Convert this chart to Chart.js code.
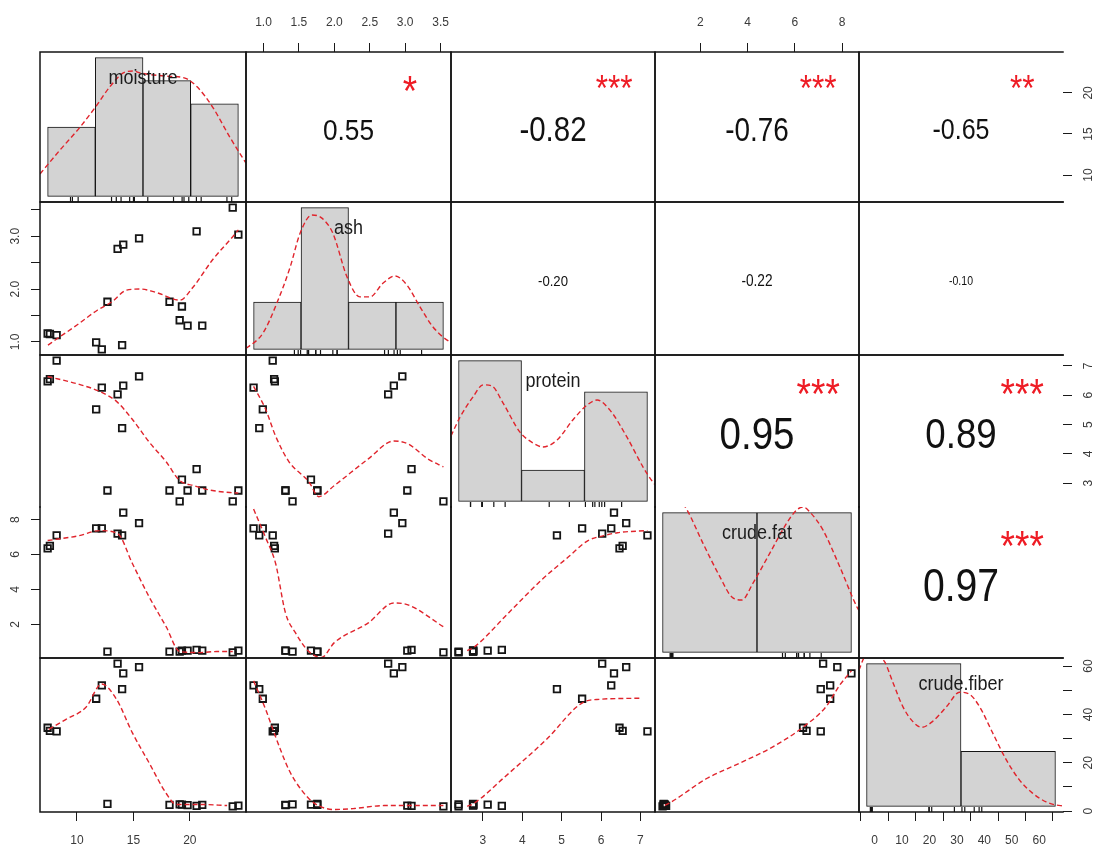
<!DOCTYPE html>
<html>
<head>
<meta charset="utf-8">
<script src="https://cdn.jsdelivr.net/npm/chart.js@4.4.1/dist/chart.umd.min.js"></script>
<style>
  html, body { margin: 0; padding: 0; background: #fff; }
  #grid { position: relative; width: 1097px; height: 852px; overflow: hidden; background: #fff; }
  #grid .cell { position: absolute; }
</style>
</head>
<body>
<div id="grid"></div>
<script>
// ---------- data ----------
const varNames = ['moisture', 'ash', 'protein', 'crude.fat', 'crude.fiber'];

const moisture   = [7.4, 7.6, 8.2, 11.7, 12.2, 14.0, 13.6, 14.1, 15.5, 12.7, 18.2, 19.3, 19.1, 19.8, 21.1, 20.6, 23.8, 24.3];
const ash        = [1.16, 1.15, 1.13, 0.99, 0.86, 0.94, 2.76, 2.84, 2.96, 1.76, 1.76, 1.67, 1.41, 1.31, 1.31, 3.09, 3.54, 3.03];
const protein    = [6.47, 6.55, 7.18, 5.52, 6.26, 4.88, 6.03, 6.33, 6.64, 2.75, 2.75, 3.12, 2.38, 2.75, 2.75, 3.48, 2.38, 2.75];
const crudeFat   = [6.35, 6.5, 7.1, 7.5, 7.5, 7.1, 7.2, 8.4, 7.8, 0.45, 0.45, 0.5, 0.45, 0.5, 0.5, 0.55, 0.4, 0.5];
const crudeFiber = [34.5, 33.2, 33.0, 46.5, 52.0, 50.5, 61.0, 57.0, 59.6, 3.0, 2.6, 2.7, 2.8, 2.5, 2.6, 2.2, 2.0, 2.3];

// pairwise correlations (upper panels) and significance stars
const corrPairs  = [[0,1],[0,2],[0,3],[0,4],[1,2],[1,3],[1,4],[2,3],[2,4],[3,4]];
const corrValues = [0.55, -0.82, -0.76, -0.65, -0.20, -0.22, -0.10, 0.95, 0.89, 0.97];
const corrStars  = ['*', '***', '***', '**', '', '', '', '***', '***', '***'];

// histogram breaks and counts (diagonal panels)
const moistureBreaks = [5, 10, 15, 20, 25];   const moistureCounts = [3, 6, 5, 4];
const ashBreaks      = [0, 1, 2, 3, 4];       const ashCounts      = [3, 9, 3, 3];
const proteinBreaks  = [2, 4, 6, 8];          const proteinCounts  = [9, 2, 7];
const fatBreaks      = [0, 5, 10];            const fatCounts      = [9, 9];
const fiberBreaks    = [0, 50, 100];          const fiberCounts    = [13, 5];

// kernel density curves [value, density]
const densMoisture = [[4.2,0.0108],[6.3,0.0223],[8.4,0.0333],[10.1,0.0434],[11.5,0.0525],[13.1,0.0597],[14.0,0.0602],[14.7,0.0593],[17.3,0.0578],[19.4,0.0568],[20.7,0.0525],[22.3,0.0429],[24.1,0.0285],[25.4,0.0189],[25.8,0.0160]];
const densAsh = [[-0.16,0.004],[-0.12,0.008],[0.2,0.058],[0.49,0.163],[0.77,0.29],[0.98,0.41],[1.23,0.474],[1.44,0.463],[1.67,0.41],[1.97,0.255],[2.24,0.185],[2.45,0.185],[2.73,0.234],[2.98,0.259],[3.23,0.227],[3.51,0.149],[3.78,0.079],[4.14,0.026],[4.16,0.025]];
const densProtein = [[1.76,0.116],[2.05,0.150],[2.46,0.1855],[2.78,0.207],[3.06,0.205],[3.41,0.175],[3.95,0.123],[4.36,0.104],[4.68,0.0967],[5.13,0.109],[5.63,0.1446],[6.08,0.171],[6.4,0.18],[6.81,0.162],[7.35,0.114],[7.86,0.061],[8.17,0.0345],[8.24,0.030]];
const densFat = [[-0.4,0.106],[0.3,0.111],[0.9,0.109],[1.29,0.102],[2.14,0.078],[3.04,0.054],[3.67,0.0396],[4.2,0.0375],[4.79,0.0496],[5.68,0.071],[6.58,0.0926],[7.11,0.102],[7.45,0.104],[7.8,0.1004],[8.49,0.0876],[9.39,0.061],[10.29,0.0325],[10.4,0.030]];
const densFiber = [[-4,0.0138],[-1,0.0152],[2.5,0.0158],[6,0.0153],[9.7,0.0146],[13.9,0.01257],[19.2,0.0101],[24.4,0.0086],[29.2,0.0080],[35.0,0.0086],[42.4,0.0101],[49.2,0.01155],[54.5,0.01135],[59.8,0.0101],[66.6,0.0075],[74.0,0.0047],[80.8,0.0027],[87.7,0.00136],[95.1,0.00044],[100.3,0.00013],[104,0.00005]];

// smoothed trend lines for the lower panels [x, y]
const smoothAshByMoisture     = [[7.43,0.94],[8.3,1.07],[10.0,1.32],[11.8,1.6],[13.1,1.76],[14.4,1.98],[15.6,2.0],[17.1,1.93],[19.1,1.79],[20.3,2.04],[22.0,2.55],[23.8,2.99],[24.3,3.12]];
const smoothProteinByMoisture = [[7.4,6.64],[10.2,6.37],[12.0,6.13],[13.5,5.79],[14.9,5.18],[16.4,4.40],[17.9,3.73],[19.1,3.09],[20.3,2.92],[22.0,2.75],[24.3,2.66]];
const smoothFatByMoisture     = [[7.4,6.8],[10.2,7.08],[12.0,7.37],[13.6,7.2],[14.9,5.5],[16.4,3.57],[17.9,1.87],[19.1,0.45],[20.9,0.39],[22.4,0.45],[23.8,0.45]];
const smoothFiberByMoisture   = [[7.5,33.8],[9.0,37.9],[10.8,43.0],[12.2,52.6],[13.5,46.3],[14.9,32.5],[16.4,19.9],[17.9,7.4],[18.8,2.75],[20.9,2.75],[23.3,2.3]];
const smoothProteinByAsh      = [[0.86,6.30],[1.03,5.52],[1.17,4.61],[1.36,3.73],[1.64,3.05],[1.78,2.54],[2.0,2.92],[2.48,3.83],[2.84,4.44],[3.04,4.34],[3.32,3.83],[3.54,3.56]];
const smoothFatByAsh          = [[0.86,8.6],[1.03,6.97],[1.17,5.5],[1.31,2.66],[1.45,1.53],[1.64,0.45],[1.82,0.11],[2.0,0.96],[2.48,2.09],[2.84,3.23],[3.04,3.12],[3.54,1.87]];
const smoothFiberByAsh        = [[0.86,53.9],[1.03,42.1],[1.17,30.8],[1.36,17.0],[1.54,8.6],[1.72,3.2],[2.0,0.66],[2.28,1.08],[2.7,2.3],[3.04,2.3],[3.54,2.3]];
const smoothFatByProtein      = [[2.6,0.5],[2.79,0.73],[3.65,2.66],[4.48,4.53],[5.16,5.84],[5.67,6.8],[6.07,7.08],[6.42,7.25],[7.18,7.37]];
const smoothFiberByProtein    = [[2.6,2.0],[2.77,3.2],[3.55,14.1],[4.61,29.6],[5.56,45.1],[5.99,46.3],[6.5,46.6],[7.0,46.7]];
const smoothFiberByFat        = [[0.5,2.4],[0.74,3.6],[2.29,13.6],[3.68,19.9],[5.07,26.6],[6.33,34.6],[7.34,43.4],[7.88,51.8],[8.4,58.1]];

// axis ticks and labels
const moistureTicks = [10, 15, 20];            const moistureLabels = ['10', '15', '20'];
const ashTicks = [1.0, 1.5, 2.0, 2.5, 3.0, 3.5];
const ashTopLabels  = ['1.0', '1.5', '2.0', '2.5', '3.0', '3.5'];
const ashLeftLabels = ['1.0', '', '2.0', '', '3.0', ''];
const proteinTicks = [3, 4, 5, 6, 7];          const proteinLabels = ['3', '4', '5', '6', '7'];
const fatTicks = [2, 4, 6, 8];                 const fatLabels = ['2', '4', '6', '8'];
const fiberTicks = [0, 10, 20, 30, 40, 50, 60];
const fiberBottomLabels = ['0', '10', '20', '30', '40', '50', '60'];
const fiberRightLabels  = ['0', '', '20', '', '40', '', '60'];

// ---------- assembly ----------
const series = [moisture, ash, protein, crudeFat, crudeFiber];
const histBreaks = [moistureBreaks, ashBreaks, proteinBreaks, fatBreaks, fiberBreaks];
const histCounts = [moistureCounts, ashCounts, proteinCounts, fatCounts, fiberCounts];
const densityCurves = [densMoisture, densAsh, densProtein, densFat, densFiber];
const smoothLines = {
  '1-0': smoothAshByMoisture, '2-0': smoothProteinByMoisture, '3-0': smoothFatByMoisture, '4-0': smoothFiberByMoisture,
  '2-1': smoothProteinByAsh, '3-1': smoothFatByAsh, '4-1': smoothFiberByAsh,
  '3-2': smoothFatByProtein, '4-2': smoothFiberByProtein,
  '4-3': smoothFiberByFat
};

const edgeAxes = [
  { row: 0, col: 1, side: 'top',    v: 1, ticks: ashTicks,      labels: ashTopLabels },
  { row: 0, col: 3, side: 'top',    v: 3, ticks: fatTicks,      labels: fatLabels },
  { row: 4, col: 0, side: 'bottom', v: 0, ticks: moistureTicks, labels: moistureLabels },
  { row: 4, col: 2, side: 'bottom', v: 2, ticks: proteinTicks,  labels: proteinLabels },
  { row: 4, col: 4, side: 'bottom', v: 4, ticks: fiberTicks,    labels: fiberBottomLabels },
  { row: 1, col: 0, side: 'left',   v: 1, ticks: ashTicks,      labels: ashLeftLabels },
  { row: 3, col: 0, side: 'left',   v: 3, ticks: fatTicks,      labels: fatLabels },
  { row: 0, col: 4, side: 'right',  v: 0, ticks: moistureTicks, labels: moistureLabels },
  { row: 2, col: 4, side: 'right',  v: 2, ticks: proteinTicks,  labels: proteinLabels },
  { row: 4, col: 4, side: 'right',  v: 4, ticks: fiberTicks,    labels: fiberRightLabels }
];

const FONT = "'Liberation Sans', Arial, Helvetica, sans-serif";
Chart.defaults.font.family = FONT;
const RED = '#e0242c';
const INK = '#151515';
const STRETCH = 1.16;
const TICK_FONT = 12;
const TICK_LEN = 9;

const colEdges = [40, 246, 451, 655, 859, 1063];
const rowEdges = [52, 202, 355, 507, 658, 812];
const M = 50;

const measureCtx = document.createElement('canvas').getContext('2d');
function textWidth(t, size) { measureCtx.font = size + 'px ' + FONT; return measureCtx.measureText(t).width; }

function pairsRange(v) {
  const lo = Math.min(...v), hi = Math.max(...v), d = hi - lo;
  return [lo - 0.04 * d, hi + 0.04 * d];
}

function edgeScale(a) {
  const [lo, hi] = pairsRange(series[a.v]);
  const horiz = a.side === 'top' || a.side === 'bottom';
  let pad;
  if (horiz) {
    pad = 29 - TICK_LEN - TICK_FONT * 1.2 / 2;
  } else {
    const widest = Math.max(...a.labels.map(t => textWidth(t, TICK_FONT)));
    pad = (a.side === 'left' ? 24 : 26) - TICK_LEN - widest / 2;
  }
  return {
    type: 'linear', axis: horiz ? 'x' : 'y', position: a.side, min: lo, max: hi,
    afterBuildTicks: s => { s.ticks = a.ticks.map(value => ({ value })); },
    afterFit: s => { if (horiz) s.height = M; else s.width = M; },
    grid: { display: true, drawOnChartArea: false, drawTicks: true, tickLength: TICK_LEN, color: '#1a1a1a', lineWidth: 1 },
    border: { display: false },
    ticks: {
      autoSkip: false, padding: pad, color: '#3a3a3a', font: { size: TICK_FONT },
      minRotation: horiz ? 0 : 90, maxRotation: horiz ? 0 : 90,
      crossAlign: horiz ? 'near' : 'center',
      callback: (val, i) => a.labels[i]
    }
  };
}

function drawStretched(ctx, text, x, y, size, color, inkUp) {
  ctx.save();
  ctx.font = size + 'px ' + FONT;
  ctx.fillStyle = color;
  ctx.textAlign = 'center';
  ctx.textBaseline = 'alphabetic';
  ctx.translate(x, y);
  ctx.scale(1, STRETCH);
  ctx.fillText(text, 0, inkUp * size);
  ctx.restore();
}

function framePlugin(r, c) {
  return {
    id: 'panelFrame',
    afterDraw(chart) {
      const { left, right, top, bottom } = chart.chartArea;
      const ctx = chart.ctx;
      const e = 0.75;
      ctx.save();
      ctx.strokeStyle = INK;
      ctx.lineWidth = 1.5;
      ctx.beginPath();
      ctx.moveTo(left, top - e); ctx.lineTo(left, bottom + e);
      if (r !== 3) { ctx.moveTo(left - e, top); ctx.lineTo(right + e, top); }
      if (r !== 2) { ctx.moveTo(left - e, bottom); ctx.lineTo(right + e, bottom); }
      if (c !== 4) { ctx.moveTo(right, top - e); ctx.lineTo(right, bottom + e); }
      ctx.stroke();
      ctx.restore();
    }
  };
}

function textPlugin(r, c) {
  return {
    id: 'panelText',
    afterDatasetsDraw(chart) {
      const ctx = chart.ctx;
      const area = chart.chartArea;
      if (r === c) {
        const x = area.left + 0.5 * (area.right - area.left);
        const y = area.bottom - 0.833 * (area.bottom - area.top);
        drawStretched(ctx, varNames[r], x, y + 1, 18, '#1c1c1c', 0.27);
      } else if (r < c) {
        const k = corrPairs.findIndex(p => p[0] === r && p[1] === c);
        const rv = corrValues[k];
        const txt = rv.toFixed(2);
        const em = textWidth(txt, 100) / 100;
        const numSize = 60 * (Math.abs(rv) + 0.3) / em;
        const starSize = 72 / em;
        const sx = chart.scales.x, sy = chart.scales.y;
        drawStretched(ctx, txt, sx.getPixelForValue(0.5), sy.getPixelForValue(0.5) + 2, numSize, '#111', 0.358);
        if (corrStars[k]) {
          drawStretched(ctx, corrStars[k], sx.getPixelForValue(0.8), sy.getPixelForValue(0.8) - 2, starSize, '#ee1c25', 0.575);
        }
      }
    }
  };
}

function histConfig(v) {
  const br = histBreaks[v], counts = histCounts[v];
  const n = counts.reduce((s, k) => s + k, 0);
  const dens = counts.map((k, i) => k / (n * (br[i + 1] - br[i])));
  const dmax = Math.max(...dens);
  const span = br[br.length - 1] - br[0];
  const bars = counts.map((k, i) => ({ x: (br[i] + br[i + 1]) / 2, y: dens[i] }));
  return {
    type: 'bar',
    data: { datasets: [
      { type: 'scatter', data: series[v].map(x => ({ x, y: -0.04 * dmax })),
        pointStyle: 'line', pointRotation: 90, pointRadius: 5, pointBorderColor: INK, pointBorderWidth: 1.2, clip: 0, order: 0 },
      { type: 'line', data: densityCurves[v].map(([x, y]) => ({ x, y })),
        borderColor: RED, borderWidth: 1.4, borderDash: [5, 3], pointRadius: 0, fill: false,
        cubicInterpolationMode: 'monotone', order: 1 },
      { type: 'bar', data: bars, backgroundColor: '#d3d3d3', borderColor: INK, borderWidth: 1,
        borderSkipped: false, barPercentage: 1, categoryPercentage: 1, order: 2 }
    ] },
    scales: {
      x: { type: 'linear', display: false, offset: false, min: br[0] - 0.04 * span, max: br[br.length - 1] + 0.04 * span,
           afterBuildTicks: s => { s.ticks = br.map(value => ({ value })); } },
      y: { type: 'linear', display: false, min: -0.04 * dmax, max: 1.04 * dmax }
    }
  };
}

function scatterConfig(r, c) {
  const pts = series[c].map((x, k) => ({ x, y: series[r][k] }));
  const [xlo, xhi] = pairsRange(series[c]);
  const [ylo, yhi] = pairsRange(series[r]);
  return {
    type: 'scatter',
    data: { datasets: [
      { data: smoothLines[r + '-' + c].map(([x, y]) => ({ x, y })), showLine: true,
        borderColor: RED, borderWidth: 1.4, borderDash: [5, 3], pointRadius: 0,
        cubicInterpolationMode: 'monotone', order: 0 },
      { data: pts, pointStyle: 'rect', pointRadius: 4.6, pointBorderColor: INK, pointBorderWidth: 1.8,
        pointBackgroundColor: 'rgba(255,255,255,0)', order: 1 }
    ] },
    scales: {
      x: { type: 'linear', display: false, min: xlo, max: xhi },
      y: { type: 'linear', display: false, min: ylo, max: yhi }
    }
  };
}

function corrConfig() {
  return {
    type: 'scatter',
    data: { datasets: [] },
    scales: {
      x: { type: 'linear', display: false, min: 0, max: 1 },
      y: { type: 'linear', display: false, min: 0, max: 1 }
    }
  };
}

const grid = document.getElementById('grid');
for (let r = 0; r < 5; r++) {
  for (let c = 0; c < 5; c++) {
    const left = colEdges[c], top = rowEdges[r];
    const w = colEdges[c + 1] - left, h = rowEdges[r + 1] - top;
    const div = document.createElement('div');
    div.className = 'cell';
    div.style.left = (left - M) + 'px';
    div.style.top = (top - M) + 'px';
    const cv = document.createElement('canvas');
    cv.width = w + 2 * M; cv.height = h + 2 * M;
    cv.style.width = cv.width + 'px'; cv.style.height = cv.height + 'px';
    div.appendChild(cv);
    grid.appendChild(div);

    const base = r === c ? histConfig(r) : (r < c ? corrConfig() : scatterConfig(r, c));
    const axes = edgeAxes.filter(a => a.row === r && a.col === c);
    const sides = new Set(axes.map(a => a.side));
    const scales = Object.assign({}, base.scales);
    axes.forEach((a, i) => { scales['edge' + i] = edgeScale(a); });

    new Chart(cv, {
      type: base.type,
      data: base.data,
      options: {
        responsive: false,
        animation: false,
        events: [],
        layout: { padding: {
          left: sides.has('left') ? 0 : M, right: sides.has('right') ? 0 : M,
          top: sides.has('top') ? 0 : M, bottom: sides.has('bottom') ? 0 : M } },
        plugins: { legend: { display: false }, tooltip: { enabled: false } },
        scales
      },
      plugins: [textPlugin(r, c), framePlugin(r, c)]
    });
  }
}
</script>
</body>
</html>
